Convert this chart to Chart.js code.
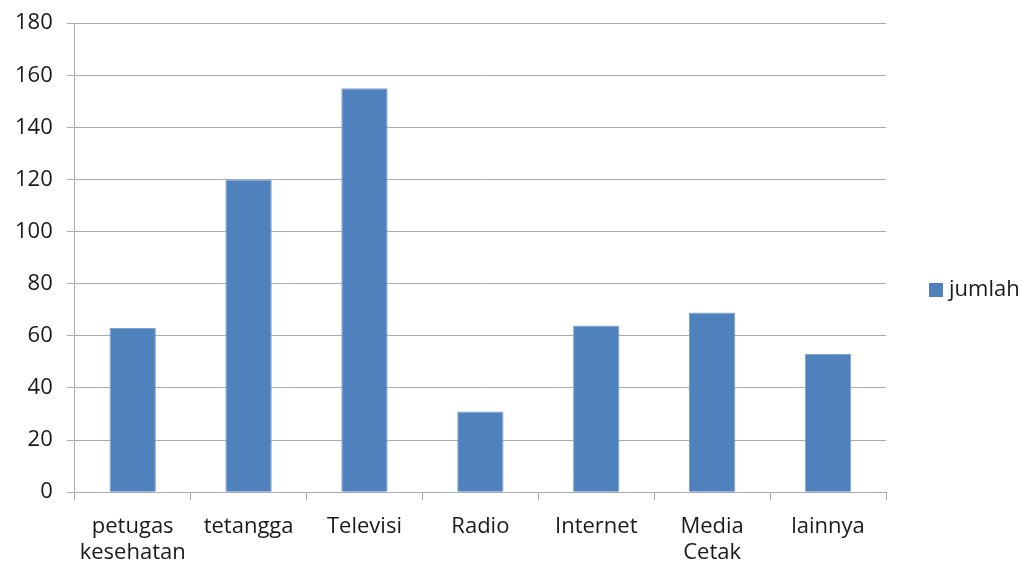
<!DOCTYPE html>
<html>
<head>
<meta charset="utf-8">
<script src="https://cdn.jsdelivr.net/npm/chart.js@4"></script>
<style>
  html, body { margin: 0; padding: 0; background: #fff; }
  #wrap { width: 1026px; height: 567px; overflow: hidden; }
  #chart { display: block; margin-top: -4px; }
</style>
</head>
<body>
<div id="wrap"><canvas id="chart" width="1026" height="571"></canvas></div>
<script>
// data
const categories = [
  ['petugas', 'kesehatan'], 'tetangga', 'Televisi', 'Radio', 'Internet', ['Media', 'Cetak'], 'lainnya'
];
const jumlah = [63, 120, 155, 31, 64, 69, 53];
const seriesName = 'jumlah';

const barColor = '#4F81BD';
const gridColor = '#ABABAB';
const textColor = '#1a1a1a';
const fontFamily = '"Open Sans", "Liberation Sans", sans-serif';

// legend drawn beside the plot, like the spreadsheet original
const sideLegend = {
  id: 'sideLegend',
  afterDraw(chart) {
    const c = chart.ctx;
    const area = chart.chartArea;
    const ds = chart.data.datasets[0];
    const x = area.right + 43;
    const y = 294;
    c.save();
    c.fillStyle = ds.backgroundColor;
    c.fillRect(x, y - 7, 14, 14);
    c.fillStyle = textColor;
    c.font = '22px ' + fontFamily;
    c.textBaseline = 'middle';
    c.fillText(ds.label, x + 20, y);
    c.restore();
  },
};

const ctx = document.getElementById('chart').getContext('2d');
new Chart(ctx, {
  type: 'bar',
  data: {
    labels: categories,
    datasets: [{
      label: seriesName,
      data: jumlah,
      backgroundColor: barColor,
      borderColor: '#7FA2D0',
      borderWidth: 1,
      categoryPercentage: 0.4,
      barPercentage: 1.0,
    }],
  },
  plugins: [sideLegend],
  options: {
    responsive: false,
    animation: false,
    layout: { padding: { top: 0, right: 140, bottom: -12, left: 1 } },
    plugins: {
      legend: { display: false },
      tooltip: { enabled: false },
    },
    scales: {
      x: {
        grid: {
          offset: true,
          drawOnChartArea: false,
          drawTicks: true,
          tickLength: 8,
          color: gridColor,
        },
        border: { color: gridColor, width: 1 },
        ticks: {
          color: textColor,
          padding: 13,
          maxRotation: 0,
          font: { family: fontFamily, size: 22, lineHeight: 1.2 },
        },
      },
      y: {
        min: 0,
        max: 180,
        ticks: {
          stepSize: 20,
          color: textColor,
          padding: 14,
          font: { family: fontFamily, size: 22 },
        },
        grid: { color: gridColor, tickLength: 8, lineWidth: 1 },
        border: { color: gridColor, width: 1 },
      },
    },
  },
});
</script>
</body>
</html>
